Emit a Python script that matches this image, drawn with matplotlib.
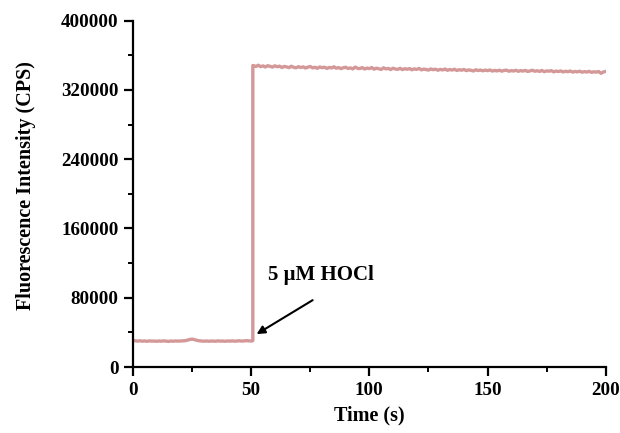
import numpy as np
import matplotlib
matplotlib.use("Agg")
import matplotlib.pyplot as plt
from matplotlib.ticker import MultipleLocator

# baseline before HOCl addition, one reading per second (0-50 s), CPS
time_pre = np.arange(0, 51)
signal_pre = [30600, 30200, 29900, 30300, 29800, 30100, 29700, 30200, 29900, 30000,
              29700, 30100, 29800, 30200, 29900, 29600, 30000, 29800, 30100, 29900,
              30000, 30200, 30400, 31000, 31800, 32200, 31600, 30800, 30300, 30000,
              29800, 30100, 29700, 30000, 29900, 29800, 30200, 29900, 30000, 29700,
              30100, 29900, 30200, 29800, 30000, 30300, 29900, 30100, 30400, 30200,
              30000]

# HOCl added here
jump_time = 50.7
jump_low = 30400
jump_high = 348200

# response after 5 uM HOCl, one reading per second (51-200 s), CPS
time_post = np.arange(51, 201)
signal_post = [348200, 347100, 348600, 346900, 347800, 346500, 348000, 347300, 346400, 347900,
               346800, 347500, 345900, 347200, 346600, 345800, 347400, 346100, 345600, 346900,
               345900, 346700, 345300, 346400, 347100, 345500, 346200, 345000, 346600, 345700,
               346300, 344900, 346000, 345400, 346800, 345100, 345900, 344600, 345700, 346200,
               344800, 345500, 344300, 346400, 345000, 344700, 345800, 344200, 345300, 344600,
               345900, 344000, 345200, 344500, 343700, 345600, 344300, 344900, 343600, 345100,
               344200, 343800, 345000, 343500, 344600, 343900, 344700, 343300, 344400, 343700,
               344900, 343200, 344100, 343600, 342900, 344300, 343400, 344000, 342800, 343800,
               343100, 344200, 342700, 343600, 343000, 343900, 342500, 343400, 342800, 343700,
               342300, 343200, 342700, 341900, 343300, 342400, 343000, 342100, 342900, 342300,
               343100, 341800, 342600, 342000, 342800, 341700, 342500, 342900, 341600, 342300,
               341900, 342700, 341500, 342400, 341800, 342600, 341300, 342100, 342800, 341600,
               342200, 341400, 342500, 341100, 342000, 341700, 342300, 340900, 341800, 341300,
               342000, 340800, 341600, 341100, 341900, 340600, 341400, 340900, 341700, 340500,
               341200, 340700, 341500, 340300, 341000, 340600, 341300, 339200, 340800, 341400]

time = list(time_pre) + [jump_time, jump_time] + list(time_post)
signal = signal_pre + [jump_low, jump_high] + signal_post

plt.rcParams['font.family'] = ['Liberation Serif', 'DejaVu Serif']
plt.rcParams['font.weight'] = 'bold'

fig = plt.figure(figsize=(6.2, 4.33), dpi=100)
ax = fig.add_axes([0.2145, 0.1524, 0.7625, 0.7998])

ax.plot(time, signal, color='#d49898', lw=2.4, solid_joinstyle='round')

ax.set_xlim(0, 200)
ax.set_ylim(0, 400000)
ax.xaxis.set_major_locator(MultipleLocator(50))
ax.xaxis.set_minor_locator(MultipleLocator(25))
ax.yaxis.set_major_locator(MultipleLocator(80000))
ax.yaxis.set_minor_locator(MultipleLocator(40000))

for side in ['top', 'right']:
    ax.spines[side].set_visible(False)
for side in ['left', 'bottom']:
    ax.spines[side].set_linewidth(1.6)

ax.tick_params(which='major', direction='out', length=6.5, width=1.6,
               labelsize=13.7, pad=4)
ax.tick_params(which='minor', direction='out', length=3.5, width=1.4)
for lab in ax.get_xticklabels() + ax.get_yticklabels():
    lab.set_fontweight('bold')

ax.set_xlabel('Time (s)', fontsize=14.5, fontweight='bold', va='top')
ax.set_ylabel('Fluorescence Intensity (CPS)', fontsize=14.5,
              fontweight='bold')
ax.xaxis.set_label_coords(0.499, -0.112)
ax.yaxis.set_label_coords(-0.205, 0.524)

# arrow pointing at the addition moment
ax.annotate('', xy=(52.3, 38000), xytext=(76.0, 77200),
            arrowprops=dict(arrowstyle='-|>', color='black', lw=1.5,
                            shrinkA=0, shrinkB=0, mutation_scale=12))
ax.text(57.1, 106000, '5 μM HOCl', fontsize=15, fontweight='bold',
        ha='left', va='center')

fig.savefig('out.png', dpi=100)
